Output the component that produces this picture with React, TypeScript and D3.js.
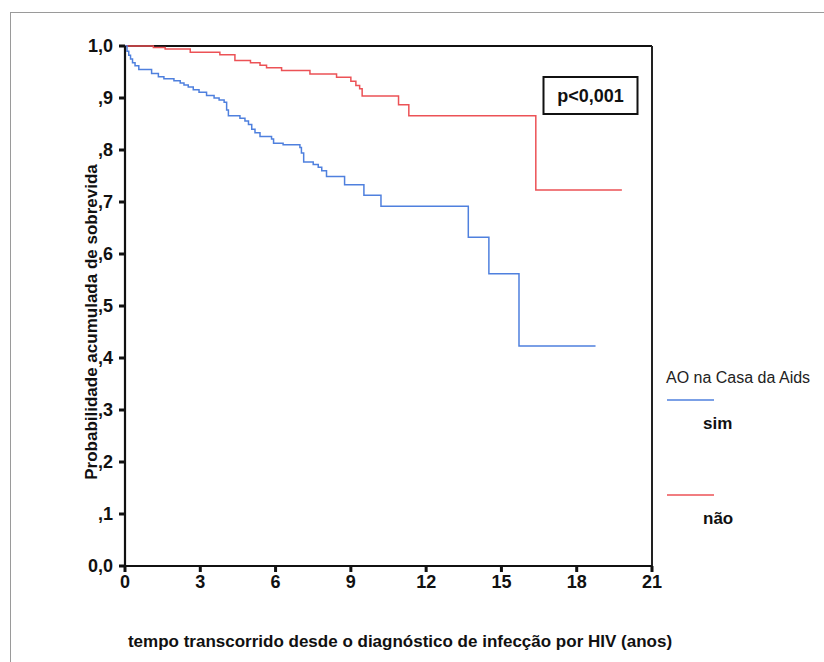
import React from "react";
import * as d3 from "d3";

// Kaplan–Meier estimates: time (years) and survival after each step
const simTimes = [0, 0.08, 0.15, 0.22, 0.3, 0.4, 0.55, 1.06, 1.33, 1.55, 1.95, 2.2, 2.35, 2.52, 2.72, 2.95, 3.25, 3.55, 3.75, 3.95, 4.05, 4.12, 4.58, 4.78, 4.92, 5.05, 5.18, 5.38, 5.84, 5.92, 6.3, 6.97, 7.03, 7.12, 7.5, 7.7, 7.84, 8.03, 8.75, 9.52, 10.2, 13.68, 14.5, 15.7, 18.75];
const simSurv = [1.0, 0.99, 0.982, 0.975, 0.968, 0.962, 0.955, 0.947, 0.941, 0.937, 0.933, 0.929, 0.925, 0.921, 0.916, 0.911, 0.905, 0.9, 0.896, 0.892, 0.877, 0.866, 0.861, 0.856, 0.849, 0.84, 0.833, 0.826, 0.821, 0.813, 0.81, 0.805, 0.794, 0.777, 0.772, 0.767, 0.76, 0.749, 0.733, 0.713, 0.692, 0.632, 0.562, 0.423, 0.423];

const naoTimes = [0, 1.13, 1.6, 2.6, 3.78, 4.38, 5.0, 5.38, 5.64, 6.24, 7.37, 8.43, 9.0, 9.2, 9.35, 9.45, 10.9, 11.31, 16.37, 19.8];
const naoSurv = [1.0, 0.997, 0.994, 0.988, 0.983, 0.972, 0.968, 0.963, 0.958, 0.953, 0.946, 0.94, 0.932, 0.924, 0.918, 0.904, 0.887, 0.866, 0.723, 0.723];

const xTicks = [0, 3, 6, 9, 12, 15, 18, 21];
const yTicks = [0, 0.1, 0.2, 0.3, 0.4, 0.5, 0.6, 0.7, 0.8, 0.9, 1.0];
const yTickLabels = ["0,0", ",1", ",2", ",3", ",4", ",5", ",6", ",7", ",8", ",9", "1,0"];

const legendTitle = "AO na Casa da Aids";
const groupNames = ["sim", "não"];
const groupColors = ["#4f80de", "#ec5256"];
const pLabel = "p<0,001";

const W = 824;
const H = 662;
const plot = { left: 125, right: 652, top: 46, bottom: 566 };

export default function App() {
  const x = d3.scaleLinear().domain([0, 21]).range([plot.left, plot.right]);
  const y = d3.scaleLinear().domain([0, 1]).range([plot.bottom, plot.top]);

  const line = d3
    .line<[number, number]>()
    .x((d) => x(d[0]))
    .y((d) => y(d[1]))
    .curve(d3.curveStepAfter);

  const simPts = simTimes.map((t, i) => [t, simSurv[i]] as [number, number]);
  const naoPts = naoTimes.map((t, i) => [t, naoSurv[i]] as [number, number]);

  const font = "Arial, 'Liberation Sans', Helvetica, sans-serif";

  return (
    <svg
      width={W}
      height={H}
      style={{ position: "absolute", left: 0, top: 0, background: "#fff" }}
      fontFamily={font}
    >
      <rect x={0} y={0} width={W} height={H} fill="#fff" />
      {/* outer frame */}
      <rect x={10.5} y={12.5} width={900} height={800} fill="none" stroke="#9a9a9a" strokeWidth={1} />

      {/* plot frame */}
      <line x1={plot.left} y1={plot.top} x2={plot.right} y2={plot.top} stroke="#111" strokeWidth={2} />
      <line x1={plot.right} y1={plot.top} x2={plot.right} y2={plot.bottom} stroke="#222" strokeWidth={2} />

      {/* curves */}
      <path d={line(naoPts) || ""} fill="none" stroke={groupColors[1]} strokeWidth={1.5} />
      <path d={line(simPts) || ""} fill="none" stroke={groupColors[0]} strokeWidth={1.5} />

      {/* axes */}
      <line x1={plot.left} y1={plot.top} x2={plot.left} y2={plot.bottom} stroke="#111" strokeWidth={2.2} />
      <line x1={plot.left} y1={plot.bottom} x2={plot.right} y2={plot.bottom} stroke="#111" strokeWidth={2.2} />

      {yTicks.map((v, i) => (
        <g key={"y" + i}>
          <line x1={plot.left - 6} y1={y(v)} x2={plot.left} y2={y(v)} stroke="#111" strokeWidth={3} />
          <text
            x={113}
            y={y(v)}
            dy="0.36em"
            textAnchor="end"
            fontSize={18}
            fontWeight="bold"
            fill="#111"
          >
            {yTickLabels[i]}
          </text>
        </g>
      ))}

      {xTicks.map((v) => (
        <g key={"x" + v}>
          <line x1={x(v)} y1={plot.bottom} x2={x(v)} y2={plot.bottom + 6} stroke="#111" strokeWidth={3} />
          <text x={x(v)} y={588} textAnchor="middle" fontSize={18} fontWeight="bold" fill="#111">
            {v}
          </text>
        </g>
      ))}

      {/* axis titles */}
      <text
        transform={`translate(97, ${322}) rotate(-90)`}
        textAnchor="middle"
        fontSize={17}
        fontWeight="bold"
        fill="#111"
      >
        Probabilidade acumulada de sobrevida
      </text>
      <text x={400} y={647} textAnchor="middle" fontSize={17} fontWeight="bold" fill="#111">
        tempo transcorrido desde o diagnóstico de infecção por HIV (anos)
      </text>

      {/* p-value box */}
      <rect x={543.5} y={77} width={94} height={37} fill="#fff" stroke="#111" strokeWidth={2} />
      <text x={590.5} y={102} textAnchor="middle" fontSize={18} fontWeight="bold" fill="#111">
        {pLabel}
      </text>

      {/* legend */}
      <text x={666} y={383} fontSize={16} fill="#222">
        {legendTitle}
      </text>
      {groupNames.map((g, i) => {
        const ly = i === 0 ? 400 : 495;
        return (
          <g key={g}>
            <line x1={667} y1={ly} x2={714} y2={ly} stroke={groupColors[i]} strokeWidth={1.5} />
            <text x={703} y={ly + 29} fontSize={17} fontWeight="bold" fill="#111">
              {g}
            </text>
          </g>
        );
      })}
    </svg>
  );
}
